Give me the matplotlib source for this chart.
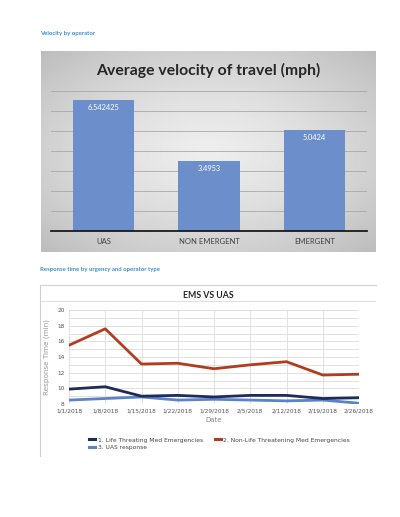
import numpy as np
import matplotlib
matplotlib.use("Agg")
import matplotlib.pyplot as plt
from matplotlib.lines import Line2D

# bar chart data
categories = ["UAS", "NON EMERGENT", "EMERGENT"]
velocity = [6.542425, 3.4953, 5.0424]
velocity_labels = ["6.542425", "3.4953", "5.0424"]

# line chart data
dates = ["1/1/2018", "1/8/2018", "1/15/2018", "1/22/2018", "1/29/2018",
         "2/5/2018", "2/12/2018", "2/19/2018", "2/26/2018"]
life_threat = [9.9, 10.2, 9.0, 9.1, 8.9, 9.1, 9.1, 8.7, 8.8]
non_life = [15.5, 17.6, 13.1, 13.2, 12.5, 13.0, 13.4, 11.7, 11.8]
uas_resp = [8.5, 8.7, 8.9, 8.5, 8.6, 8.5, 8.4, 8.5, 8.1]

W, H = 400, 517


def rect(x0, y0, x1, y1):
    # pixel box -> figure fraction [l, b, w, h]
    return [x0 / W, 1 - y1 / H, (x1 - x0) / W, (y1 - y0) / H]


fig = plt.figure(figsize=(4, 5.17), dpi=100)
fig.patch.set_facecolor("white")

heading_col = "#3F8FCB"
fig.text(40 / W, 1 - 34 / H, "Velocity by operator", fontsize=4.3,
         color=heading_col, fontweight="bold", va="center", family="Lato")
fig.text(40 / W, 1 - 269 / H, "Response time by urgency and operator type",
         fontsize=4.3, color=heading_col, fontweight="bold", va="center", family="Lato")

# ---- bar chart panel with grey radial gradient
bg = fig.add_axes(rect(41, 51, 376, 252))
yy, xx = np.mgrid[-1:1:200j, -1:1:300j]
r = np.sqrt(xx ** 2 + yy ** 2) / np.sqrt(2)
bg.imshow(0.93 - 0.19 * r ** 1.4, cmap="gray", vmin=0, vmax=1,
          aspect="auto", extent=[0, 1, 0, 1])
bg.set_axis_off()
bg.text(0.5, 1 - (70 - 51) / 201, "Average velocity of travel (mph)",
        transform=bg.transAxes, ha="center", va="center", fontsize=11.3,
        fontweight="bold", color="#262626", family="Lato")

ax1 = fig.add_axes(rect(51, 91, 367, 231))
ax1.patch.set_alpha(0)
x = np.arange(len(categories))
bars = ax1.bar(x, velocity, width=0.58, color="#6C8FCC", zorder=3)
for b, lab in zip(bars, velocity_labels):
    ax1.text(b.get_x() + b.get_width() / 2, b.get_height() - 0.35, lab,
             ha="center", va="center", fontsize=5.3, color="white", family="Lato")
ax1.set_xlim(-0.5, 2.5)
ax1.set_ylim(0, 7)
ax1.set_yticks(range(1, 8))
ax1.yaxis.grid(True, color="#A8A8A8", lw=0.6, zorder=0)
ax1.set_yticklabels([])
ax1.tick_params(axis="y", length=0)
ax1.set_xticks(x)
ax1.set_xticklabels(categories, fontsize=5.5, color="#404040", family="Lato")
ax1.tick_params(axis="x", length=0, pad=5)
for s in ["top", "right", "left"]:
    ax1.spines[s].set_visible(False)
ax1.spines["bottom"].set_color("#1a1a1a")
ax1.spines["bottom"].set_linewidth(1.3)
ax1.spines["bottom"].set_zorder(4)

# ---- line chart panel
frame = fig.add_axes(rect(40, 285, 376, 456))
frame.set_xlim(0, 1)
frame.set_ylim(0, 1)
frame.set_xticks([])
frame.set_yticks([])
for s in frame.spines.values():
    s.set_color("#D0D0D0")
    s.set_linewidth(0.8)
frame.spines["right"].set_visible(False)
frame.spines["bottom"].set_visible(False)
frame.axhline(1 - (301 - 285) / 171, color="#D9D9D9", lw=0.6)
frame.text(0.5, 1 - (295 - 285) / 171, "EMS VS UAS", ha="center", va="center",
           fontsize=6.3, fontweight="bold", color="#262626", family="Lato")

ax2 = fig.add_axes(rect(69, 310, 359, 404))
ax2.patch.set_alpha(0)
xi = np.arange(len(dates))
ax2.plot(xi, uas_resp, color="#5B83C9", lw=2.0, solid_capstyle="round", zorder=3)
ax2.plot(xi, life_threat, color="#1E2B5C", lw=2.0, solid_capstyle="round", zorder=4)
ax2.plot(xi, non_life, color="#B23C1F", lw=2.0, solid_capstyle="round", zorder=4)
ax2.set_xlim(0, len(dates) - 1)
ax2.set_ylim(8, 20)
ax2.set_yticks(range(8, 21, 2))
ax2.set_yticks(range(8, 21), minor=True)
ax2.set_xticks(xi)
ax2.set_xticklabels(dates)
ax2.grid(True, which="both", color="#DCDCDC", lw=0.6, zorder=0)
ax2.tick_params(which="both", length=0)
ax2.tick_params(axis="both", labelsize=4.2, labelcolor="#555555", pad=3)
for s in ax2.spines.values():
    s.set_visible(False)
ax2.set_xlabel("Date", fontsize=5, color="#888888", labelpad=3)
ax2.set_ylabel("Response Time (min)", fontsize=5.2, color="#999999", labelpad=5)

handles = [
    Line2D([], [], color="#1E2B5C", lw=2.2),
    Line2D([], [], color="#5B83C9", lw=2.2),
    Line2D([], [], color="#B23C1F", lw=2.2),
]
labels = ["1. Life Threating Med Emergencies", "3. UAS response",
          "2. Non-Life Threatening Med Emergencies"]
fig.legend(handles, labels, ncol=2, loc="upper left",
           bbox_to_anchor=(84 / W, 1 - 432 / H), fontsize=4.3, frameon=False,
           handlelength=1.0, handletextpad=0.4, columnspacing=2.0,
           labelspacing=0.45, labelcolor="#444444")

fig.savefig("out.png", dpi=100, facecolor="white")
